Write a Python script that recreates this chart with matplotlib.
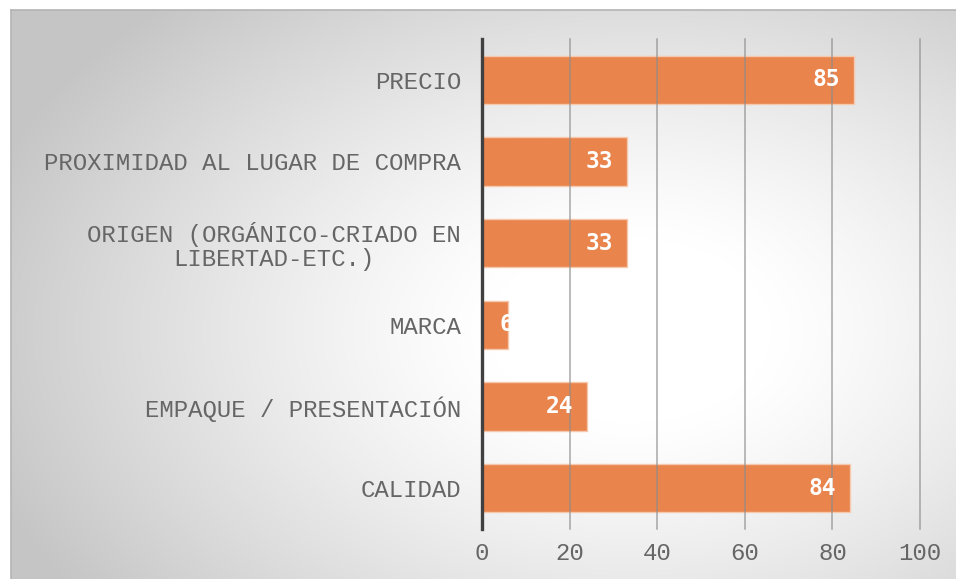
import numpy as np
import matplotlib
matplotlib.use("Agg")
import matplotlib.pyplot as plt

categories = [
    "PRECIO",
    "PROXIMIDAD AL LUGAR DE COMPRA",
    "ORIGEN (ORGÁNICO-CRIADO EN\nLIBERTAD-ETC.)",
    "MARCA",
    "EMPAQUE / PRESENTACIÓN",
    "CALIDAD",
]
values = [85, 33, 33, 6, 24, 84]
x_ticks = [0, 20, 40, 60, 80, 100]

W, H, DPI = 956, 579, 100
fig = plt.figure(figsize=(W / DPI, H / DPI), dpi=DPI, facecolor="white")

# Radial grey-to-white backdrop of the chart area
bg = fig.add_axes([0, 0, 1, 1], zorder=0)
bg.set_xlim(0, W)
bg.set_ylim(H, 0)
bg.axis("off")
yy, xx = np.mgrid[0:H, 0:W]
cx, cy = 630, 330
d = np.sqrt(((xx - cx) / 640.0) ** 2 + ((yy - cy) / 420.0) ** 2)
t = np.clip((d - 0.22) / 0.85, 0, 1)
shade = 255 - 58 * t ** 1.2
img = np.dstack([shade, shade, shade]).astype(np.uint8)
x0, y0 = 11, 10
img[:y0, :, :] = 255
img[:, :x0, :] = 255
bg.imshow(img, extent=(0, W, H, 0), interpolation="bilinear", aspect="auto")
bg.plot([x0, W], [y0, y0], color="#b4b4b4", lw=1.2)
bg.plot([x0, x0], [y0, H], color="#b4b4b4", lw=1.2)

ax = fig.add_axes([482 / W, 1 - 529 / H, (920 - 482) / W, (529 - 39) / H], zorder=1)
ax.patch.set_alpha(0)

ypos = np.arange(len(categories))
bars = ax.barh(ypos, values, height=0.59, color="#E9844D", edgecolor="#f6c9ad",
               linewidth=1.0, zorder=2)
ax.set_ylim(len(categories) - 0.5, -0.5)
ax.set_xlim(0, 100)

# Vertical gridlines drawn faintly over the bars
for xv in x_ticks[1:]:
    ax.axvline(xv, color="#8c8c8c", lw=1.1, alpha=0.75, zorder=3, clip_on=False)
ax.axvline(0, color="#404040", lw=2.4, zorder=4, clip_on=False)

mono = "Liberation Mono"
ax.set_yticks(ypos)
ax.set_yticklabels(categories, family=mono, fontsize=17.3, color="#666666",
                   multialignment="center", linespacing=1.05)
ax.set_xticks(x_ticks)
ax.set_xticklabels([str(v) for v in x_ticks], family=mono, fontsize=17.3, color="#666666")
ax.tick_params(axis="y", length=0, pad=15)
ax.tick_params(axis="x", length=0, pad=9)
for s in ax.spines.values():
    s.set_visible(False)

# Value labels at the inner end of each bar
for yv, v in zip(ypos, values):
    if v >= 10:
        off, ha = -10, "right"
    else:
        off, ha = -6, "left"
    ax.annotate(str(v), xy=(v, yv), xytext=(off, 0), textcoords="offset points",
                ha=ha, va="center", fontsize=16.5, fontweight="bold",
                family="DejaVu Sans Mono", color="white", zorder=5)

fig.savefig("out.png", dpi=DPI, facecolor="white")
